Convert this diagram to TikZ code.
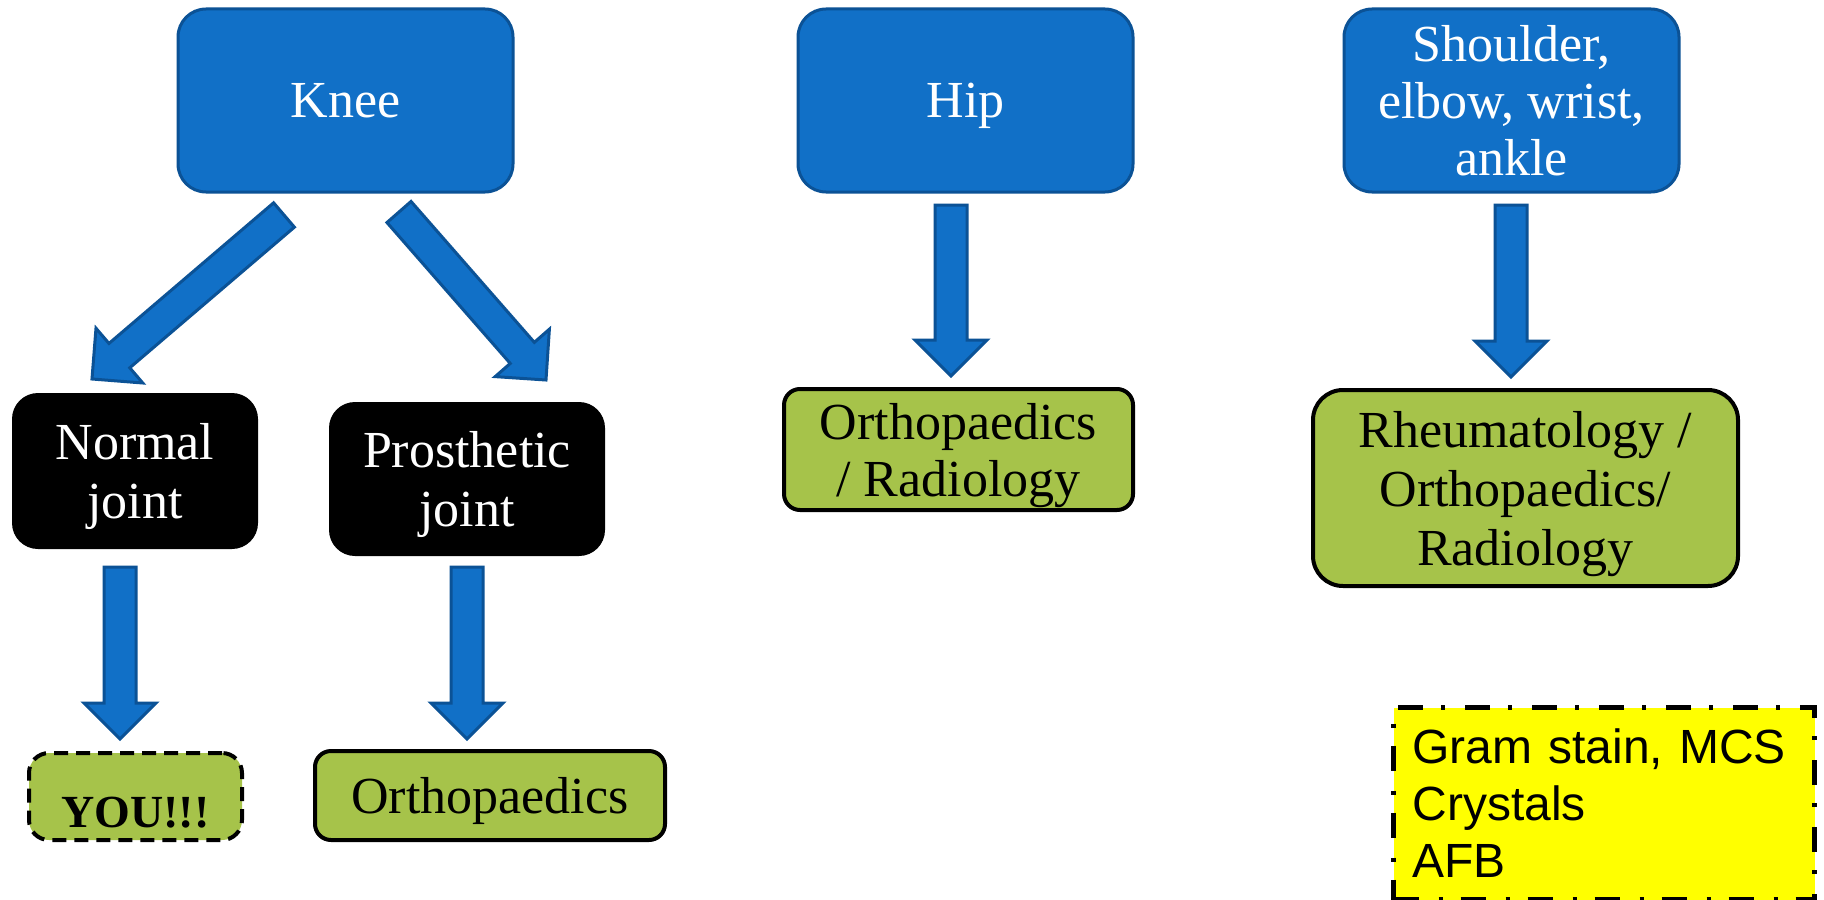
\documentclass[tikz,border=0pt]{standalone}
\usepackage{fontspec}
\setmainfont{Liberation Serif}
\newfontfamily\arialf{Liberation Sans}
\usetikzlibrary{calc}
\definecolor{bluefill}{RGB}{17,112,199}
\definecolor{blueline}{RGB}{11,82,150}
\definecolor{greenfill}{RGB}{166,195,74}
\definecolor{yel}{RGB}{255,255,0}
\tikzset{
  txt/.style={font=\fontsize{26}{28.5}\selectfont, align=center, inner sep=0pt, text depth=0pt},
  bluebox/.style={txt, draw=blueline, fill=bluefill, line width=1.5pt, rounded corners=14pt, text=white},
  blackbox/.style={txt, fill=black, rounded corners=13pt, text=white},
  greenbox/.style={txt, draw=black, fill=greenfill, line width=2pt, rounded corners=8pt, text=black},
  youbox/.style={greenbox, dash pattern=on 7pt off 4pt, rounded corners=10pt},
  notebox/.style={draw=black, fill=yel, line width=2.5pt, dash pattern=on 12.5pt off 10pt on 2pt off 9pt,
    align=left, font=\arialf\fontsize{24}{28.5}\selectfont, inner xsep=9.5pt, inner ysep=0pt,
    text width=191.5pt, minimum height=96pt, anchor=north west},
  arrowstyle/.style={draw=blueline, fill=bluefill, line width=1.5pt, line join=miter},
}
\newcommand\blockarr[2]{%
  \coordinate (hb) at ($(#2)!18pt!(#1)$);
  \draw[arrowstyle] ($(#1)!8pt!90:(#2)$) -- ($(hb)!8pt!90:(#2)$) -- ($(hb)!18pt!90:(#2)$) -- (#2)
    -- ($(hb)!18pt!-90:(#2)$) -- ($(hb)!8pt!-90:(#2)$) -- ($(#1)!8pt!-90:(#2)$) -- cycle;}
\begin{document}
\begin{tikzpicture}[x=0.5pt,y=-0.5pt]
\useasboundingbox (0,0) rectangle (1824,899);
\fill[white] (0,0) rectangle (1824,899);

% top boxes
\node[bluebox, minimum width=167.5pt, minimum height=91.5pt] (knee) at (345.5,100.5) {Knee};
\node[bluebox, minimum width=167.5pt, minimum height=91.5pt] (hip) at (965.5,100.5) {Hip};
\node[bluebox, minimum width=167.5pt, minimum height=91.5pt] (shoulder) at (1511.5,100.5) {Shoulder,\\elbow, wrist,\\ankle};

% middle boxes
\node[blackbox, minimum width=123pt, minimum height=78pt, font=\fontsize{26}{29.5}\selectfont] (normal) at (135,471) {Normal\\joint};
\node[blackbox, minimum width=138pt, minimum height=77pt, font=\fontsize{26}{29.5}\selectfont] (prosth) at (467,479) {Prosthetic\\joint};
\node[greenbox, minimum width=174.5pt, minimum height=60.5pt] (orthrad) at (958.5,449.5) {Orthopaedics\\/ Radiology};
\node[greenbox, minimum width=212.5pt, minimum height=98pt, rounded corners=15pt, font=\fontsize{26}{29.5}\selectfont] (rheum) at (1525.5,488) {Rheumatology /\\Orthopaedics/\\Radiology};

% bottom boxes
\node[youbox, minimum width=106.5pt, minimum height=43.5pt, text height=30.5pt, font=\bfseries\fontsize{23}{26}\selectfont] (you) at (135.5,796.5) {YOU!!!};
\node[greenbox, minimum width=175pt, minimum height=44.5pt] (ortho) at (490,795.5) {Orthopaedics};
\node[notebox] (note) at (1391,705) {Gram stain, MCS\\Crystals\\AFB};

% arrow end points
\coordinate (a1t) at (284,215); \coordinate (a1p) at (92,379);
\coordinate (a2t) at (399,212); \coordinate (a2p) at (546,380);
\coordinate (a3t) at (120,567); \coordinate (a3p) at (120,739);
\coordinate (a4t) at (467,567); \coordinate (a4p) at (467,739);
\coordinate (a5t) at (951,205); \coordinate (a5p) at (951,376);
\coordinate (a6t) at (1511,205); \coordinate (a6p) at (1511,377);

\blockarr{a1t}{a1p}
\blockarr{a2t}{a2p}
\blockarr{a3t}{a3p}
\blockarr{a4t}{a4p}
\blockarr{a5t}{a5p}
\blockarr{a6t}{a6p}
\end{tikzpicture}
\end{document}
